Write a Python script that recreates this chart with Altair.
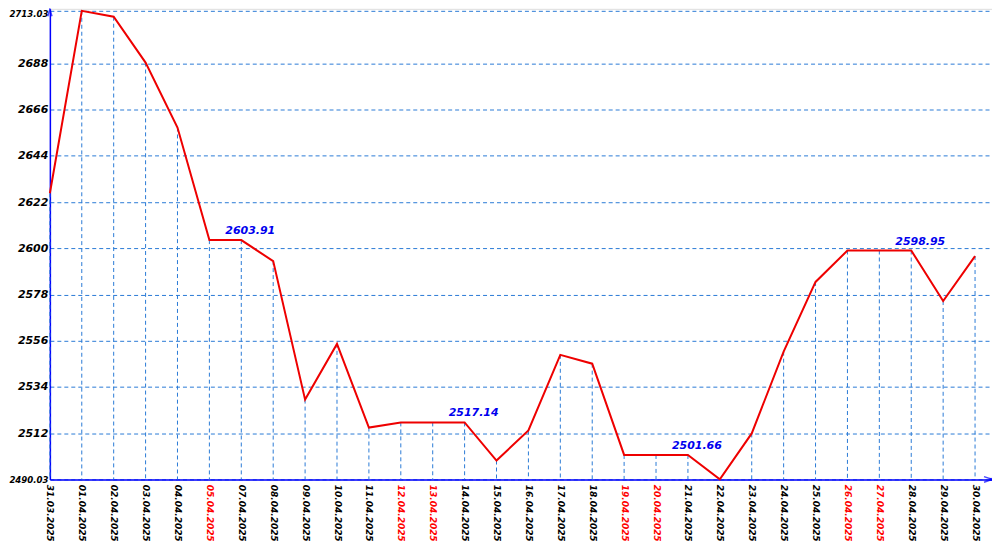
import altair as alt
import pandas as pd

dates = ["31.03.2025", "01.04.2025", "02.04.2025", "03.04.2025", "04.04.2025",
         "05.04.2025", "07.04.2025", "08.04.2025", "09.04.2025", "10.04.2025",
         "11.04.2025", "12.04.2025", "13.04.2025", "14.04.2025", "15.04.2025",
         "16.04.2025", "17.04.2025", "18.04.2025", "19.04.2025", "20.04.2025",
         "21.04.2025", "22.04.2025", "23.04.2025", "24.04.2025", "25.04.2025",
         "26.04.2025", "27.04.2025", "28.04.2025", "29.04.2025", "30.04.2025"]
values = [2626.2, 2713.03, 2710.2, 2688.4, 2657.5,
          2603.91, 2603.91, 2593.9, 2528.0, 2554.5,
          2514.7, 2517.14, 2517.14, 2517.14, 2499.0,
          2513.3, 2549.3, 2545.1, 2501.66, 2501.66,
          2501.66, 2490.03, 2511.9, 2550.8, 2584.0,
          2598.95, 2598.95, 2598.95, 2574.9, 2596.3]
holidays = [5, 11, 12, 18, 19, 25, 26]
y_ticks = [2490.03, 2512, 2534, 2556, 2578, 2600, 2622, 2644, 2666, 2688, 2713.03]
ann_idx = [6, 13, 20, 27]
ann_vals = [2603.91, 2517.14, 2501.66, 2598.95]

W, H = 945, 472
STEP = 32.0
y_min = 2490.03
y_top = 2713.03 + 2 / (470 / 223.0)

df = pd.DataFrame({"i": list(range(len(dates))), "v": values})
ann = pd.DataFrame({"i": ann_idx, "v": ann_vals,
                    "t": [f"{v:.2f}" for v in ann_vals]})

FONT = "DejaVu Sans"
BLUE = "#0000ff"
GRID = "#2a7ad6"
label_expr = "[" + ",".join(f"'{d}'" for d in dates) + "][datum.value]"
red_test = "indexof([" + ",".join(str(h) for h in holidays) + "], datum.value) >= 0"

x_scale = alt.Scale(domain=[0, W / STEP], nice=False, zero=False)
y_scale = alt.Scale(domain=[y_min, y_top], nice=False, zero=False)

x_axis = alt.Axis(
    values=list(range(len(dates))), labelExpr=label_expr, labelAngle=90,
    ticks=False, grid=False, title=None, domainColor=BLUE, domainWidth=1.5,
    labelFont=FONT, labelFontSize=9, labelFontWeight="bold", labelFontStyle="italic",
    labelColor={"condition": {"test": red_test, "value": "#ff0000"}, "value": "#000000"},
    labelOverlap=False, labelFlush=False, labelPadding=5, labelBound=False)
y_axis = alt.Axis(
    values=y_ticks, labelExpr="format(datum.value, datum.value % 1 ? '.2f' : 'd')",
    ticks=False, grid=True, gridColor=GRID, gridDash=[4, 3], gridWidth=1,
    title=None, domainColor=BLUE, domainWidth=1.5,
    labelFont=FONT, labelFontWeight="bold", labelFontStyle="italic",
    labelFontSize={"condition": {"test": "datum.value % 1 != 0", "value": 8.6}, "value": 11},
    labelOffset={"condition": {"test": "datum.value > 2700", "value": 3}, "value": 0},
    labelColor="#000000", labelOverlap=False, labelFlush=False, labelPadding=2,
    labelBound=False)

x_enc = alt.X("i:Q", scale=x_scale, axis=x_axis)
y_enc = alt.Y("v:Q", scale=y_scale, axis=y_axis)

base = alt.Chart(df)

drops = base.mark_rule(color=GRID, strokeDash=[4, 3], strokeWidth=1).encode(
    x=x_enc, y=y_enc, y2=alt.value(H))

line = base.mark_line(color="#ee0000", strokeWidth=2).encode(x=x_enc, y=y_enc)

labels = alt.Chart(ann).mark_text(
    align="left", baseline="bottom", dx=-16, dy=-4, font=FONT, fontSize=11,
    fontWeight="bold", fontStyle="italic", color="#0000ee").encode(
    x=x_enc, y=y_enc, text="t:N")

one = alt.Data(values=[{"a": 1}])
arrow_r = alt.Chart(one).mark_point(
    shape="M-1,-0.7 L1,0 L-1,0.7", filled=False, color=BLUE, strokeWidth=1.5,
    size=64).encode(x=alt.value(W - 4), y=alt.value(H))
arrow_r_tip = alt.Chart(one).mark_point(
    shape="square", filled=True, color=BLUE, size=9).encode(
    x=alt.value(W - 1), y=alt.value(H))
arrow_t = alt.Chart(one).mark_point(
    shape="M-0.6,1 L0,-1 L0.6,1", filled=False, color=BLUE, strokeWidth=1.5,
    size=49).encode(x=alt.value(0), y=alt.value(4))

chart = alt.layer(drops, line, labels, arrow_r, arrow_r_tip, arrow_t).properties(
    width=W, height=H,
    autosize=alt.AutoSizeParams(type="none"),
    padding={"left": 42, "top": 0, "right": 0, "bottom": 70},
).configure_view(stroke=None).configure(background="#ffffff")

chart.save("out.html", embed_options={"renderer": "svg", "actions": False})
